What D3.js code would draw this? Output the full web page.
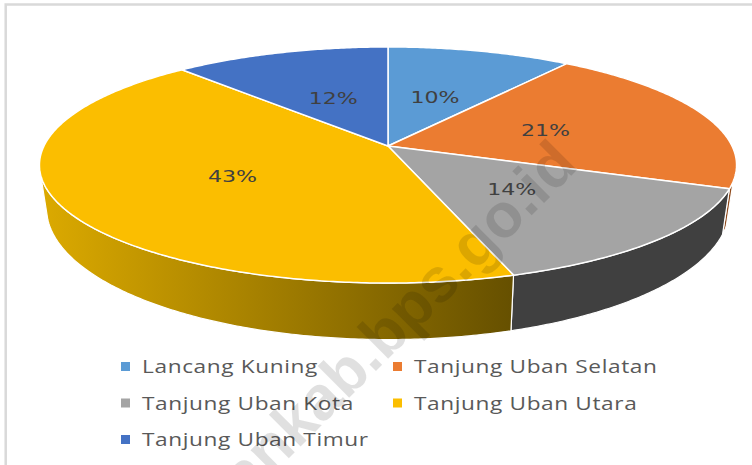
<!DOCTYPE html>
<html>
<head>
<meta charset="utf-8">
<script src="https://cdn.jsdelivr.net/npm/d3@7"></script>
<style>
html, body { margin: 0; padding: 0; background: #fff; }
svg { display: block; }
</style>
</head>
<body>
<div id="viz"></div>
<script>
var categories = ["Lancang Kuning", "Tanjung Uban Selatan", "Tanjung Uban Kota", "Tanjung Uban Utara", "Tanjung Uban Timur"];
var values = [10, 20.7, 14.3, 43.3, 11.7];
var colors = ["#5b9bd5", "#eb7c31", "#a4a4a4", "#fbbe00", "#4472c4"];
var watermark = "bintankab.bps.go.id";

var w = 752, h = 465;
var svg = d3.select("#viz").append("svg").attr("width", w).attr("height", h);

// frame
svg.append("path").attr("d", "M5.7,465V4.5H752").attr("fill", "none").attr("stroke", "#d9d9d9").attr("stroke-width", 2.5);

// perspective pie, top disc and a slightly different bottom disc
var cx = 388, cy = 146, p = 0.161;
var top_ = { a: 344, b: 115, d: 0 };
var bot = { a: 337, b: 128, d: 41 };

function project(t, disc) {
  var u = Math.sin(t), v = -Math.cos(t), k = 1 - p * v;
  return [cx + disc.a * u / k, cy + disc.d + disc.b * v / k];
}
function arcPoints(a0, a1, disc) {
  var n = Math.max(2, Math.ceil(Math.abs(a1 - a0) / 0.01));
  return d3.range(n + 1).map(function(i) { return project(a0 + (a1 - a0) * i / n, disc); });
}
var line = d3.line();
var pie = d3.pie().sort(null).value(function(d) { return d; })(values);

var defs = svg.append("defs");
var grad = defs.append("linearGradient").attr("id", "wallYellow")
  .attr("gradientUnits", "userSpaceOnUse").attr("x1", 40).attr("x2", 512).attr("y1", 0).attr("y2", 0);
grad.append("stop").attr("offset", "0%").attr("stop-color", "#dcaa00");
grad.append("stop").attr("offset", "100%").attr("stop-color", "#665000");

// side wall, only the part of each slice that faces the viewer
var visFrom = 107 * Math.PI / 180, visTo = 256 * Math.PI / 180;
var wallFill = ["#3f6a92", "#8f4a1c", "#404040", "url(#wallYellow)", "#294578"];
pie.forEach(function(s, i) {
  var a0 = Math.max(s.startAngle, visFrom), a1 = Math.min(s.endAngle, visTo);
  if (a1 <= a0) return;
  var pts = arcPoints(a0, a1, top_).concat(arcPoints(a1, a0, bot));
  svg.append("path").attr("d", line(pts) + "Z")
    .attr("fill", wallFill[i]).attr("stroke", "#fff").attr("stroke-width", 1.2);
});

// top disc
pie.forEach(function(s, i) {
  var pts = [[cx, cy]].concat(arcPoints(s.startAngle, s.endAngle, top_));
  svg.append("path").attr("d", line(pts) + "Z")
    .attr("fill", colors[i]).attr("stroke", "#fff").attr("stroke-width", 1.5).attr("stroke-linejoin", "round");
});

// data labels, source image is stretched sideways so the text is too
var labelR = [0.51, 0.5, 0.46, 0.48, 0.51];
pie.forEach(function(s, i) {
  var mid = (s.startAngle + s.endAngle) / 2;
  var pos = project(mid, { a: top_.a * labelR[i], b: top_.b * labelR[i], d: 0 });
  svg.append("text").attr("transform", "translate(" + pos[0] + "," + (pos[1] + 5.5) + ") scale(1.38,1)")
    .attr("text-anchor", "middle")
    .style("font-family", "'DejaVu Sans'").style("font-size", "16px")
    .attr("fill", "#404040").text(Math.round(values[i]) + "%");
});

// legend
var lx = d3.scalePoint().domain([0, 1]).range([122, 394]);
var ly = d3.scalePoint().domain([0, 1, 2]).range([367, 440]);
categories.forEach(function(c, i) {
  var col = i % 2, row = Math.floor(i / 2);
  svg.append("rect").attr("x", lx(col) - 1).attr("y", ly(row) - 5).attr("width", 9).attr("height", 9).attr("fill", colors[i]);
  svg.append("text").attr("transform", "translate(" + (lx(col) + 20) + "," + (ly(row) + 6) + ") scale(1.225,1)")
    .style("font-family", "'Open Sans'").style("font-size", "18.5px").style("letter-spacing", "0.5px")
    .attr("fill", "#595959").text(c);
});

// watermark, runs off the bottom edge like the source
svg.append("text").attr("transform", "translate(580,167) rotate(-45)")
  .attr("text-anchor", "end")
  .style("font-family", "'Liberation Sans'").style("font-weight", "bold").style("font-size", "62px")
  .attr("fill", "#000").attr("fill-opacity", 0.12).text(watermark);
</script>
</body>
</html>
